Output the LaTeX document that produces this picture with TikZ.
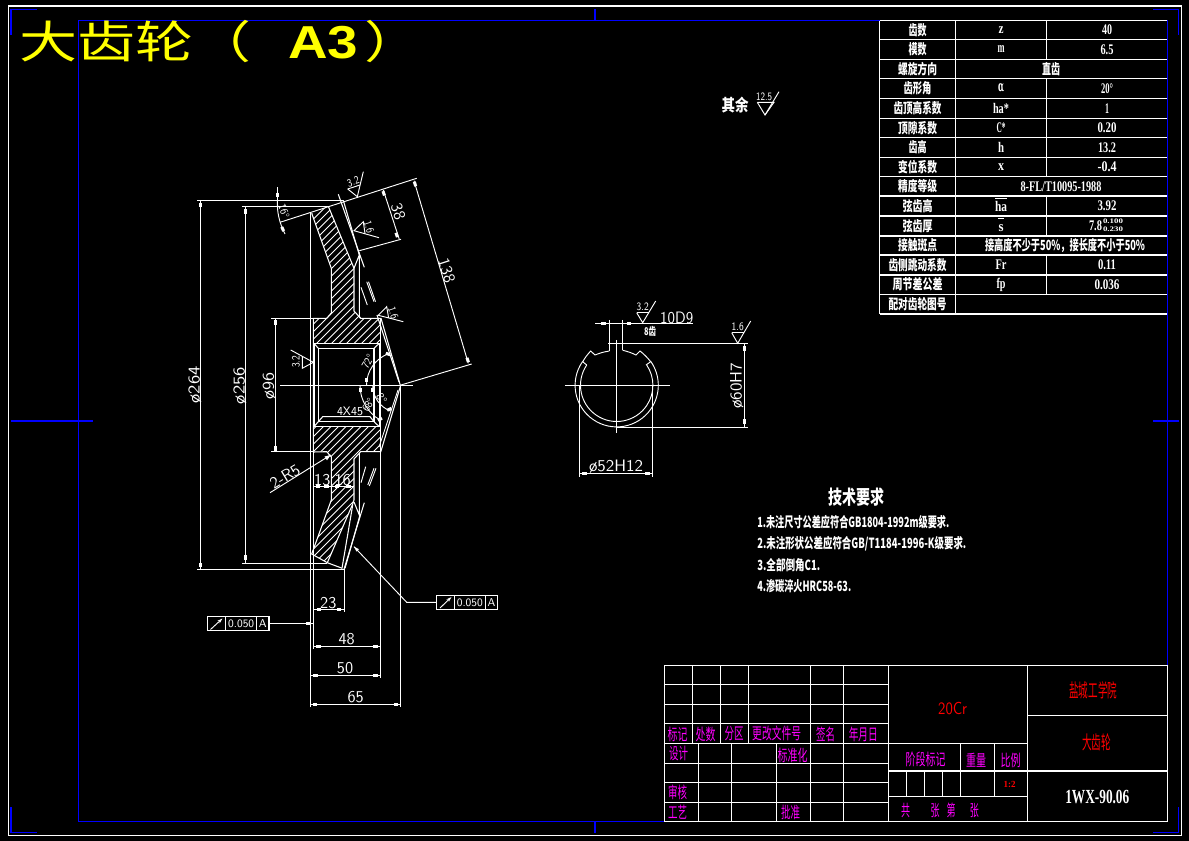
\documentclass[tikz,border=0pt]{standalone}
\usepackage{fontspec}
\usepackage{graphicx}
\usetikzlibrary{arrows.meta}
\newfontfamily\cjk{Noto Sans CJK SC}
\newfontfamily\lserif{Liberation Serif}
\newfontfamily\lsans{Liberation Sans}
\newcommand\fitw[2]{\resizebox{\dimexpr #1pt*3/4\relax}{\height}{#2}}
\newcommand\blk[3]{\fill[white,shift={(#1,#2)},rotate=#3] (-2.3,-1.5) rectangle (2.3,1.5);}
\definecolor{cadblue}{RGB}{0,0,255}
\definecolor{cadmag}{RGB}{255,0,255}
\definecolor{cadyel}{RGB}{255,255,0}
\definecolor{cadred}{RGB}{255,0,0}
\tikzset{
  ln/.style={white,line width=.8pt},
  thn/.style={white,line width=.7pt},
  bl/.style={cadblue,line width=.9pt},
  dimt/.style={white,inner sep=0,font=\fontsize{12.4}{12.4}\selectfont\sffamily},
  smt/.style={white,inner sep=0,font=\fontsize{8.5}{8.5}\selectfont\sffamily},
  tb/.style={white,inner sep=0,font=\fontsize{10.5}{10.5}\selectfont\cjk\bfseries},
  tl/.style={white,inner sep=0,font=\fontsize{11}{11}\selectfont\lserif\bfseries},
  tch/.style={white,inner sep=0,font=\fontsize{10.5}{10.5}\selectfont\cjk\bfseries},
  mg/.style={cadmag,inner sep=0,font=\fontsize{12}{12}\selectfont\cjk},
  rd/.style={cadred,inner sep=0,font=\fontsize{14}{14}\selectfont\cjk},
}
\begin{document}
\begin{tikzpicture}[x=.75pt,y=-.75pt]
\useasboundingbox (0,0) rectangle (1189,841);
\fill[black] (0,0) rectangle (1189,841);
% frames
\draw[ln] (8.5,6) rectangle (1181.5,835.5);
\draw[bl] (78.5,20.5) rectangle (1167.3,821.5);
\draw[bl] (37,9.5) -- (11,9.5) -- (11,35);
\draw[bl] (11,807) -- (11,832.5) -- (37,832.5);
\draw[bl] (1153,832.5) -- (1178.5,832.5) -- (1178.5,807);
\draw[bl] (1153,9.5) -- (1178.5,9.5) -- (1178.5,35);
\draw[bl] (595,9.5) -- (595,20.5);
\draw[bl] (595,821.5) -- (595,832.5);
\draw[bl] (11,421) -- (93,421);
\draw[bl] (1153,421) -- (1178.5,421);
% title
\node[anchor=west,cadyel,inner sep=0,yscale=.77] at (19,41.5) {\fontsize{43.5}{43.5}\selectfont\cjk 大齿轮（\hspace{27.75pt}{\fontsize{45}{45}\selectfont\lsans\bfseries\fitw{70}{A3}}\hspace{4.5pt}）};
% hatching
\begin{scope}
\clip (311.7,213.3) -- (328.3,206.3) -- (354,268.3) -- (354,311) -- (360.7,318.3) -- (380,318.3) -- (380,343.3) -- (314,343.3) -- (313.3,318.3) -- (326.7,318.3) -- (331.3,313) -- (331.3,268.3) -- cycle
 (311.7,554) -- (327.3,562.7) -- (352.7,504) -- (354,500) -- (354,459) -- (360.7,451.7) -- (380,451.7) -- (380,426.7) -- (314,426.7) -- (313.3,451.7) -- (326.7,451.7) -- (331.3,457) -- (331.3,500) -- cycle;
\foreach \s in {510,517.5,...,930} \draw[thn,line width=.6pt] ({\s-100},100) -- ({\s-600},600);
\end{scope}
% section outline top
\draw[ln] (311.7,213.3) -- (331.3,268.3) -- (331.3,313) -- (326.7,318.3) -- (313.3,318.3) -- (313.3,452) -- (326.7,451.7) -- (331.3,457) -- (331.3,500) -- (311.7,554) -- (327.3,562.7) -- (342.3,568.3);
\draw[ln] (328.3,206.3) -- (354,268.3) -- (354,311) -- (360.7,318.3) -- (380.7,318.3);
\draw[ln] (354,268.3) -- (359.3,255) -- (359.3,316.7) -- (360.7,318.3);
\draw[ln] (343.3,200.3) -- (359.3,255);
\draw[ln] (338.3,194.3) -- (364.3,267.3);
\draw[ln] (354,459) -- (360.7,451.7) -- (380.7,451.7);
\draw[ln] (327.3,562.7) -- (352.7,504) -- (354,500) -- (354,459);
\draw[ln] (359.3,453) -- (359.3,515) -- (354,502);
\draw[ln] (360,515) -- (345,568.3);
\draw[ln] (364.3,502.7) -- (344,569.3);
\draw[ln] (352.7,505) -- (342,568.3);
% bore
\draw[ln] (314,343.3) rectangle (379.3,426.7);
\draw[ln] (318.3,348.3) rectangle (374,421.7);
\draw[ln] (314,343.3) -- (318.3,348.3);
\draw[ln] (379.3,343.3) -- (374,348.3);
\draw[ln] (314,426.7) -- (318.3,421.7) -- (322.7,416.7) -- (370,416.7) -- (374,421.7) -- (379.3,426.7);
% cone
\draw[ln] (400.3,385.3) -- (381,318.3);
\draw[ln] (399,382) -- (377,315);
\draw[ln] (400.7,385.3) -- (380.7,452);
\draw[thn] (398,390) -- (379,447);
% extension lines
\draw[thn] (280,385.3) -- (413,385.3);
\draw[thn] (280,222.3) -- (416.7,178.3);
\draw[thn] (400,385.3) -- (471.7,364);
\draw[thn] (310.7,213) -- (310.7,707.3);
\draw[thn] (400.7,385) -- (400.7,707.3);
\draw[thn] (380.7,318) -- (380.7,678);
\draw[thn] (313.3,452) -- (313.3,649);
\draw[thn] (344.3,569) -- (344.3,612.3);
\draw[thn] (197.3,200.3) -- (343.3,200.3);
\draw[thn] (242.3,206.3) -- (328.3,206.3);
\draw[thn] (271.3,318.3) -- (313.3,318.3);
\draw[thn] (197.3,569.3) -- (345,569.3);
\draw[thn] (242.3,563.3) -- (327.3,563.3);
\draw[thn] (271.3,451.7) -- (313.3,451.7);
% diameter dims
\draw[thn] (200.7,200.3) -- (200.7,569.3);
\draw[thn] (245.7,206.3) -- (245.7,563.3);
\draw[thn] (275.3,318.3) -- (275.3,451.7);
\blk{200.7}{205}{90}\blk{200.7}{565}{90}
\blk{245.7}{211.7}{90}\blk{245.7}{557.7}{90}
\blk{275.3}{322.7}{90}\blk{275.3}{448.3}{90}
\node[dimt,rotate=90] at (195,385) {\fitw{37}{ø264}};
\node[dimt,rotate=90] at (240,385.7) {\fitw{37}{ø256}};
\node[dimt,rotate=90] at (269.3,385.7) {\fitw{27}{ø96}};
% 38 and 138
\draw[thn] (359.3,250.7) -- (401,239.3);
\draw[thn] (383.3,190) -- (399.3,239.3);
\blk{383.7}{193.3}{-72}\blk{396.7}{235}{-72}
\node[dimt,rotate=-72] at (398.3,211.7) {38};
\draw[thn] (414,180.7) -- (468.3,363.3);
\blk{415}{184}{-72}\blk{467.7}{360}{-72}
\node[dimt,rotate=-72] at (446.7,270.7) {138};
% small angle top left
\draw[thn] (277.3,187.3) -- (277.3,206);
\draw[thn] (277.3,200) .. controls (277,212) and (279,222) .. (285,234);
\blk{277.3}{195}{90}\blk{282.7}{229}{-65}
\node[smt,rotate=-72] at (284,211) {\fitw{14}{16°}};
% roughness on cone top
\draw[thn] (347.7,189) -- (357.3,196.7) -- (363.3,171.7);
\draw[thn] (347.7,189) -- (360,185);
\node[smt,rotate=18] at (353.3,181.7) {\fitw{12}{3.2}};
% 1.6 on tooth
\draw[thn] (379,237.7) -- (354,230.7) -- (363.3,221.7) -- (365,233.5);
\node[smt,rotate=-72] at (369,226.7) {\fitw{12}{1.6}};
% 1.6 on hub
\draw[thn] (403.3,321.7) -- (378.3,315.3) -- (386.7,306.7) -- (388.7,318.3);
\node[smt,rotate=-72] at (393.3,312.7) {\fitw{12}{1.6}};
% 3.2 bore
\draw[thn] (290.7,350) -- (313.3,362.3) -- (302.3,368.3) -- (302.3,356.7);
\node[smt,rotate=90] at (296,361.7) {\fitw{12}{3.2}};
% parallel hatch marks
\draw[thn] (361,287.3) -- (367.3,305);
\draw[thn] (366.7,281.7) -- (374,301.7);
\draw[thn] (368.5,281.7) -- (375.5,301.7);
\draw[thn] (365.7,466.7) -- (361,482.7);
\draw[thn] (376,468.3) -- (369.3,486);
\draw[thn] (374,468.3) -- (367.8,485);
% angles around apex
\draw[thn] (366.5,385.3) arc[start angle=180,end angle=250,radius=33.7];
\blk{366.7}{380}{90}\blk{388}{354}{-20}
\node[smt,rotate=60] at (367.7,361.7) {\fitw{14}{72°}};
\draw[thn] (360,385.3) arc[start angle=180,end angle=120,radius=40];
\blk{360.7}{390}{90}\blk{380}{419.3}{30}
\node[smt,rotate=60] at (368.3,405) {\fitw{14}{68°}};
\draw[thn] (372.7,385.3) arc[start angle=180,end angle=110,radius=27.5];
\blk{372.7}{390}{90}\blk{389.3}{409.3}{25}
\node[smt,rotate=-55] at (381.7,398.3) {8°};
\node[smt,font=\fontsize{9.2}{9.2}\selectfont\sffamily] at (350,411.7) {\fitw{26}{4X45}};
% 2-R5
\draw[thn] (270,492.7) -- (330.7,455);
\fill[white] (330.7,455) -- (324.5,456.5) -- (327,460.3) -- cycle;
\node[dimt,rotate=31] at (285,476.7) {2-R5};
% 13 16
\draw[thn] (313.3,486) -- (353.3,486);
\blk{318}{486}{0}\blk{326.3}{486}{0}\blk{337}{486}{0}\blk{348.5}{486}{0}
\node[dimt] at (322.3,480) {13};
\node[dimt] at (342.7,480) {16};
% bottom dims
\draw[thn] (314,609.3) -- (344.3,609.3);
\blk{319}{609.3}{0}\blk{339}{609.3}{0}
\node[dimt] at (328.3,602.7) {23};
\draw[thn] (313.7,646) -- (380.7,646);
\blk{318.3}{646}{0}\blk{375.7}{646}{0}
\node[dimt] at (346.7,639.3) {48};
\draw[thn] (310.7,675.3) -- (380.7,675.3);
\blk{315.7}{675.3}{0}\blk{375.3}{675.3}{0}
\node[dimt] at (345,668.3) {50};
\draw[thn] (310.7,704.3) -- (400.7,704.3);
\blk{315}{704.3}{0}\blk{396}{704.3}{0}
\node[dimt] at (355.7,697.3) {65};
% tolerance frames
\draw[ln] (207.3,616.7) rectangle (269,630.7);
\draw[ln] (225.7,616.7) -- (225.7,630.7);
\draw[ln] (256.7,616.7) -- (256.7,630.7);
\draw[thn,-{Stealth[length=4pt,width=2.5pt]}] (210.5,629.5) -- (222.5,618.5);
\node[smt] at (241.2,623.7) {\fitw{26}{0.050}};
\node[smt] at (262.8,623.7) {A};
\draw[thn] (269,623.3) -- (313.3,623.3);
\blk{308.3}{623.3}{0}
\draw[ln] (436.7,595.3) rectangle (497.7,609.3);
\draw[ln] (454.3,595.3) -- (454.3,609.3);
\draw[ln] (485.3,595.3) -- (485.3,609.3);
\draw[thn,-{Stealth[length=4pt,width=2.5pt]}] (440,608) -- (451.5,597);
\node[smt] at (469.8,602.3) {\fitw{26}{0.050}};
\node[smt] at (491.5,602.3) {A};
\draw[thn] (436.7,602.3) -- (406.7,602.3) -- (354,546.7);
\fill[white] (354,546.7) -- (356.5,551.5) -- (359,549.2) -- cycle;
% other text
\node[tch,font=\fontsize{12.5}{12.5}\selectfont\cjk\bfseries] at (735,105) {\fitw{27}{其余}};
\draw[thn] (757.3,102.3) -- (774,102.3) -- (765,115) -- (757.3,102.3);
\draw[thn] (765,115) -- (779,91.7);
\node[smt] at (764,97) {\fitw{16}{12.5}};
% shaft section
\draw[thn] (565,385.3) -- (670,385.3);
\draw[thn] (616.7,340) -- (616.7,433.3);
\draw[thn] (609.3,320) -- (609.3,351);
\draw[thn] (622.7,320) -- (622.7,350.3);
\draw[thn] (595,323.3) -- (693.3,323.3);
\blk{603.3}{323.3}{0}\blk{629}{323.3}{0}
\draw[thn] (608,343.3) -- (747.7,343.3);
\draw[thn] (616.7,427) -- (747.7,427);
\draw[thn] (616.7,385.3) ++(214.8:41.6) arc[start angle=214.8,end angle=-34.8,radius=41.6];
\draw[thn] (616.7,385.3) ++(214:36.2) arc[start angle=214,end angle=-34,radius=36.2];
\draw[thn] (586.7,365) -- (582.7,361.7) to[bend left=6] (590.7,351) -- (595,355) to[bend left=6] (609.3,351);
\draw[thn] (646,365) -- (650.7,361.7) to[bend right=6] (640,351) -- (636,355) to[bend right=6] (622.7,350.3);
\node[dimt] at (676.7,317.7) {\fitw{33}{10D9}};
\node[tch,font=\fontsize{8}{8}\selectfont\cjk\bfseries] at (650,331) {\fitw{12}{8齿}};
\draw[thn] (636.7,312.7) -- (649.3,312.7);
\draw[thn] (636.7,312.7) -- (642.7,322.7) -- (655.7,301);
\node[smt] at (642.7,306.7) {\fitw{12}{3.2}};
\draw[thn] (731.7,332.7) -- (744,332.7);
\draw[thn] (731.7,332.7) -- (737.7,343.3) -- (750.7,321);
\node[smt] at (737.7,326.7) {\fitw{12}{1.6}};
\draw[thn] (744.3,343.3) -- (744.3,427);
\blk{744.3}{348.3}{90}\blk{744.3}{421.7}{90}
\node[dimt,rotate=90] at (736.7,385.7) {\fitw{46}{ø60H7}};
\draw[thn] (579.3,385) -- (579.3,476.7);
\draw[thn] (652.3,385) -- (652.3,476.7);
\draw[thn] (579.3,473.3) -- (652.3,473.3);
\blk{584.3}{473.3}{0}\blk{647.3}{473.3}{0}
\node[dimt] at (616,466.7) {\fitw{54}{ø52H12}};
% technical requirements
\node[tch,font=\fontsize{14.5}{14.5}\selectfont\cjk\bfseries] at (856,496.7) {\fitw{56}{技术要求}};
\node[tch,anchor=west] at (757,521.7) {\fitw{192}{1.未注尺寸公差应符合GB1804-1992m级要求.}};
\node[tch,anchor=west] at (757,543.3) {\fitw{209}{2.未注形状公差应符合GB/T1184-1996-K级要求.}};
\node[tch,anchor=west] at (757,565) {\fitw{63}{3.全部倒角C1.}};
\node[tch,anchor=west] at (757,586) {\fitw{94}{4.渗碳淬火HRC58-63.}};
% parameter table
\foreach \y in {20.7,39.3,59.3,78.3,98.3,118.3,137.3,157.7,176.7,196,216,236,255,275,294.3,314}
  \draw[ln] (879.7,\y) -- (1167.3,\y);
\draw[ln] (879.7,20.7) -- (879.7,314);
\draw[ln] (955.7,20.7) -- (955.7,314);
\foreach \a/\b in {20.7/59.3,78.3/176.7,196/236,255/294.3}
  \draw[ln] (1046.7,\a) -- (1046.7,\b);
\foreach \y/\w/\t in {30/18/齿数,49.3/18/模数,68.8/39/螺旋方向,88.3/28/齿形角,108.3/48/齿顶高系数,127.8/39/顶隙系数,147.5/18/齿高,167.2/39/变位系数,186.3/39/精度等级,206/30/弦齿高,226/30/弦齿厚,245.5/39/接触斑点,265/58/齿侧跳动系数,284.7/50/周节差公差,304.2/58/配对齿轮图号}
  \node[tb] at (917.5,\y) {\fitw{\w}{\t}};
\foreach \y/\w/\t in {30/5/z,49.3/7/m,108.3/16/ha*,127.8/9/C*,147.5/6/h,167.2/6/x,265/11/Fr,284.7/9/fp}
  \node[tl] at (1001,\y) {\fitw{\w}{\t}};
\node[tl] at (1001,88.3) {\fitw{6}{\fontspec{DejaVu Serif}α}};
\node[tl] at (1001,206.5) {\fitw{12}{ha}};
\draw[ln] (995,198.5) -- (1007,198.5);
\node[tl] at (1001,228) {\fitw{5}{s}};
\draw[ln] (998,218.5) -- (1004,218.5);
\foreach \y/\w/\t in {30/10/40,49.3/13/6.5,88.3/12/20°,108.3/4/1,127.8/19/0.20,147.5/18/13.2,167.2/19/-0.4,206/19/3.92,265/18/0.11,284.7/25/0.036}
  \node[tl] at (1107,\y) {\fitw{\w}{\t}};
\node[tb] at (1051,68.8) {\fitw{18}{直齿}};
\node[tl] at (1061,186.3) {\fitw{81}{8-FL/T10095-1988}};
\node[tl] at (1095.5,226) {\fitw{13}{7.8}};
\node[tl,font=\fontsize{5.2}{5.2}\selectfont\lserif\bfseries] at (1113,221.5) {\fitw{20}{0.100}};
\node[tl,font=\fontsize{5.2}{5.2}\selectfont\lserif\bfseries] at (1113,229.5) {\fitw{20}{0.230}};
\node[tb] at (1065,245.5) {\fitw{160}{接高度不少于50\%，接长度不小于50\%}};
% title block
\draw[ln] (664.3,665.3) rectangle (1167.3,821.3);
\foreach \y in {684.3,704.3,723.3,743.3,763.3,782.3,802.3}
  \draw[ln] (664.3,\y) -- (888.7,\y);
\foreach \x in {692.7,720.7,748.7}
  \draw[ln] (\x,665.3) -- (\x,743.3);
\foreach \x in {810.3,843.3,888.7}
  \draw[ln] (\x,665.3) -- (\x,821.3);
\foreach \x in {698.3,731.3,776.3}
  \draw[ln] (\x,743.3) -- (\x,821.3);
\draw[ln] (1027.3,665.3) -- (1027.3,821.3);
\draw[ln] (888.7,743.3) -- (1027.3,743.3);
\draw[ln] (888.7,771) -- (1167.3,771);
\draw[ln] (1027.3,715.3) -- (1167.3,715.3);
\draw[ln] (888.7,796.3) -- (1027.3,796.3);
\draw[ln] (960.3,743.3) -- (960.3,796.3);
\draw[ln] (994.3,743.3) -- (994.3,796.3);
\foreach \x in {906.7,924.7,942.7}
  \draw[ln] (\x,771) -- (\x,796.3);
\foreach \x/\y/\w/\t in {677.7/734/20/标记,705.7/734/20/处数,734/734/19/分区,776.7/733/49/更改文件号,825.7/734.7/19/签名,863.3/734.7/29/年月日,678.7/753.3/19/设计,792.7/755/30/标准化,677.7/792.7/19/审核,677.7/812.7/19/工艺,790.7/812.7/19/批准,925.7/759.3/40/阶段标记,976/760/20/重量,1010.7/760/20/比例,905.7/810.7/9/共,935/810.7/9/张,951/810.7/9/第,974.3/810.7/9/张}
  \node[mg] at (\x,\y) {\fitw{\w}{\t}};
\node[rd,font=\fontsize{13}{13}\selectfont\sffamily] at (952.7,708.3) {\fitw{29}{20Cr}};
\node[rd] at (1093.3,690.7) {\fitw{48}{盐城工学院}};
\node[rd] at (1096.7,742.3) {\fitw{29}{大齿轮}};
\node[rd,font=\fontsize{7}{7}\selectfont\lserif\bfseries] at (1009.7,784) {\fitw{12}{1:2}};
\node[white,inner sep=0,font=\fontsize{15}{15}\selectfont\lserif\bfseries] at (1097.3,796.7) {\fitw{64}{1WX-90.06}};
\end{tikzpicture}
\end{document}
